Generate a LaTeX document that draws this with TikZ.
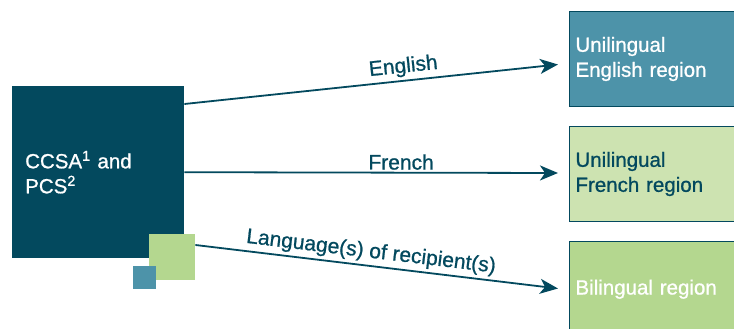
\documentclass[tikz,border=0pt]{standalone}
\usepackage{fontspec}
\setmainfont{Liberation Sans}[BoldFont={Liberation Sans}, BoldFeatures={FakeBold=0.9}]
\usetikzlibrary{arrows.meta,calc}
\definecolor{dteal}{HTML}{03495E}
\definecolor{mteal}{HTML}{4D93A9}
\definecolor{lgreen}{HTML}{CDE3B1}
\definecolor{mgreen}{HTML}{B4D78F}
\tikzset{
  region/.style={draw=dteal, line width=1pt, minimum width=170, minimum height=95,
    text width=160, align=left, inner sep=6, anchor=north west, font=\fontsize{20.5}{25}\selectfont\bfseries},
  conn/.style={draw=dteal, line width=1.8pt, -{Stealth[length=18pt,width=15pt,inset=5pt]}},
  lbl/.style={text=dteal, font=\fontsize{21}{24}\selectfont\bfseries, sloped, inner sep=3pt},
}
\begin{document}
\begin{tikzpicture}[x=1pt,y=-1pt]
\useasboundingbox (0,0) rectangle (734,329);
\node[fill=dteal, minimum width=172, minimum height=172, anchor=north west, inner sep=13,
  text width=146, align=left, text=white, font=\fontsize{20.5}{25}\selectfont\bfseries] (main) at (12,86)
  {CCSA\textsuperscript{1} and\\PCS\textsuperscript{2}};
\node[fill=mgreen, minimum size=46, inner sep=0, anchor=north west] (gsq) at (149,234) {};
\node[fill=mteal, minimum size=23, inner sep=0, anchor=north west] (tsq) at (133,266) {};
\node[region, fill=mteal, text=white] (eng) at (569,11) {Unilingual\\English region};
\node[region, fill=lgreen, text=dteal] (fre) at (569,126) {Unilingual\\French region};
\node[region, fill=mgreen, text=white, minimum height=96] (bil) at (569,241) {\strut Bilingual region};
\coordinate (s1) at ($(main.north east)+(0,18)$);
\coordinate (e1) at ($(eng.west)+(-11,5.5)$);
\coordinate (s2) at (main.east);
\coordinate (e2) at ($(fre.west)+(-11,-1)$);
\coordinate (s3) at ($(gsq.north east)+(0,11)$);
\coordinate (e3) at ($(bil.west)+(-11,-1)$);
\draw[conn] (s1) -- node[lbl, pos=0.59, above] (l1) {English} (e1);
\draw[conn] (s2) -- node[lbl, pos=0.58, above, inner sep=2pt] (l2) {French} (e2);
\draw[conn] (s3) -- node[lbl, pos=0.48, above] (l3) {Language(s) of recipient(s)} (e3);
\end{tikzpicture}
\end{document}
